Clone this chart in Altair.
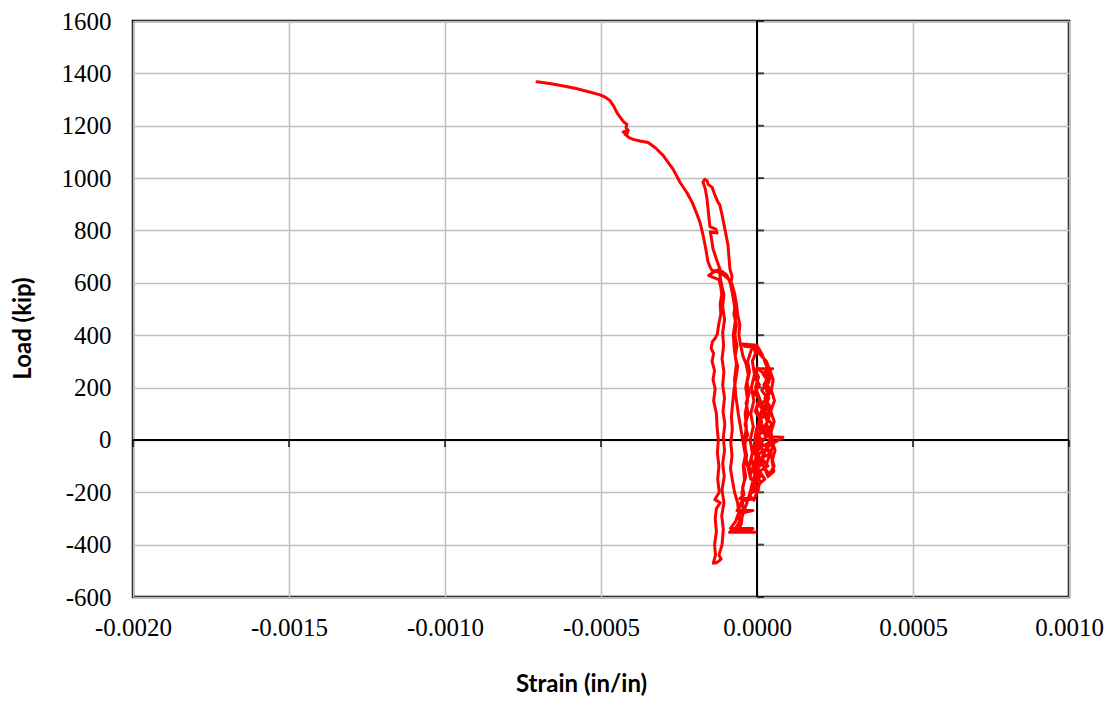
import altair as alt
import pandas as pd

# Strain in microstrain (1e-6 in/in), load in kip, in recorded order
seg_a = [(0,0),(8,25),(15,60),(10,95),(20,130),(12,100),(5,60),(-5,20),(-10,-30),(-18,-70),
         (-12,-100),(-20,-130),(-8,-90),(0,-50),(12,-80),(25,-110),(40,-130),(55,-100),(45,-60),
         (30,-30),(83,10),(40,12),(25,40),(35,80),(22,120),(38,160),(28,200),(42,235),(32,255),
         (45,270),(50,272),(42,272),(10,272),(-5,265),(5,240),(-5,200),(8,160),(-3,120),(10,80),
         (-2,40),(5,0),(-8,-40),(0,-80),(-10,-110),(-5,-150),(-15,-180),(-22,-215),(-10,-230),(0,-200)]
seg_a2 = [(10,-160),(-5,-120),(15,-90),(0,-60),(20,-40),(5,-10),(30,10),(15,40),(35,70),(20,100),
          (40,130),(25,160),(42,190),(30,220),(45,250),(35,275),(20,250),(38,220),(15,190),(32,160),
          (10,130),(28,100),(5,70),(25,40),(0,10),(20,-20),(-5,-50),(15,-80),(-8,-110),(10,-140),
          (-10,-170),(5,-190),(-12,-200),(-5,-180),(25,-150),(8,-120),(35,-100),(15,-70),(45,-50),
          (25,-20),(50,0),(30,30),(48,60),(28,90),(45,120),(25,150),(40,180),(22,210),(35,240),
          (15,260),(0,275),(-8,240),(8,210),(-10,180),(12,150),(-6,110),(15,70),(-4,30),(18,-5),
          (-2,-40),(10,-75),(-6,-100),(12,-125),(-8,-150)]
seg_b = [(-10,-150),(5,-100),(20,-60),(35,-20),(45,20),(30,60),(42,100),(28,140),(40,180),(30,220),
         (38,260),(25,300),(15,330),(5,350),(0,362),(-45,366),(-40,358),(-15,355),(-22,330),(-30,300),
         (-24,260),(-32,220),(-25,180),(-35,140),(-28,100),(-38,60),(-30,20),(-40,-20),(-33,-60),
         (-42,-100),(-36,-140),(-46,-180),(-42,-210),(-55,-224),(-6,-224),(-48,-232),(-58,-262),
         (-64,-270),(-13,-270),(-60,-282),(-68,-310),(-85,-338),(-13,-338),(-80,-345),(-88,-353),
         (-5,-353),(-70,-340),(-50,-300),(-35,-250),(-22,-200),(-12,-150),(0,-110),(15,-70),(30,-30),
         (50,-10),(58,-40),(48,-80),(54,-120),(35,-140),(25,-110),(40,-60),(52,-20),(45,30),(55,70),
         (44,110),(56,150),(46,190),(52,230),(40,270),(30,300),(15,320),(0,340),(-10,355),(-5,330),
         (-15,300),(-8,250),(-18,200),(-10,150),(-20,100),(-12,50),(-22,0),(-15,-50),(-25,-100),(-20,-150)]
seg_c = [(-30,-100),(-40,-40),(-50,30),(-60,100),(-68,170),(-72,230),(-66,290),(-73,350),(-76,400),
         (-69,460),(-73,520),(-79,560),(-86,600),(-96,628),(-110,642),(-125,650),(-140,640),(-155,628),
         (-138,620),(-122,612),(-116,585),(-113,555),(-118,520),(-116,480),(-123,440),(-127,405),
         (-134,388),(-143,375),(-147,350),(-139,330),(-144,300),(-136,265),(-141,230),(-134,195),
         (-139,150),(-130,100),(-128,50),(-124,0),(-127,-50),(-122,-100),(-126,-150),(-121,-200),
         (-135,-228),(-118,-240),(-130,-262),(-134,-300),(-130,-350),(-136,-400),(-133,-440),
         (-140,-471),(-128,-468),(-115,-455),(-122,-440)]
seg_d = [(-112,-400),(-108,-340),(-113,-290),(-106,-240),(-112,-190),(-105,-140),(-110,-90),
         (-104,-40),(-108,10),(-103,60),(-109,110),(-104,160),(-110,210),(-106,260),(-112,310),
         (-107,360),(-110,410),(-104,460),(-110,510),(-106,555),(-114,595),(-119,630),(-119,654),
         (-130,690),(-141,730),(-146,770),(-150,795),(-128,790),(-132,805),(-151,815),(-155,860),
         (-160,920),(-166,960),(-173,985),(-168,995),(-160,990),(-156,975),(-144,965),(-135,935),
         (-126,910),(-119,897),(-112,860),(-103,806),(-98,775),(-93,745),(-90,700),(-87,654),
         (-80,625),(-84,595),(-77,560),(-70,520),(-74,480),(-66,440),(-71,400),(-64,360),(-70,320),
         (-62,280),(-67,240),(-74,190),(-78,140),(-82,90),(-79,40),(-84,-10),(-80,-60),(-85,-110),
         (-78,-160),(-72,-200),(-62,-240),(-58,-290),(-54,-320),(-60,-345)]
seg_e = [(-50,-320),(-45,-260),(-48,-200),(-40,-150),(-44,-100),(-36,-50),(-40,0),(-34,50),(-38,100),
         (-30,150),(-36,200),(-28,250),(-35,290),(-45,320),(-52,360),(-58,400),(-55,440),(-62,480),
         (-66,520),(-72,560),(-80,595),(-92,615),(-105,628),(-118,638),(-132,644),(-145,648),
         (-150,660),(-157,680),(-165,735),(-173,783),(-183,832),(-195,870),(-208,908),(-225,945),
         (-247,984),(-258,1010),(-269,1034),(-285,1060),(-301,1087),(-325,1115),(-349,1136),
         (-375,1142),(-397,1148),(-410,1155),(-423,1167),(-415,1172),(-429,1176),(-412,1182),
         (-420,1192),(-417,1205),(-428,1216),(-440,1235),(-449,1250),(-458,1272),(-471,1296),
         (-485,1308),(-503,1318),(-540,1330),(-580,1342),(-620,1352),(-660,1360),(-705,1368)]

x_ticks = [-0.002, -0.0015, -0.001, -0.0005, 0.0, 0.0005, 0.001]
y_ticks = [-600, -400, -200, 0, 200, 400, 600, 800, 1000, 1200, 1400, 1600]

rows = []
for seg in (seg_a, seg_a2, seg_b, seg_c, seg_d, seg_e):
    for s, p in seg:
        rows.append({"idx": len(rows), "strain": s / 1e6, "load": p})
df = pd.DataFrame(rows)

xscale = alt.Scale(domain=[-0.002, 0.001], nice=False, zero=False)
yscale = alt.Scale(domain=[-600, 1600], nice=False, zero=False)

label_font = "Liberation Serif"
title_font = "Lato"

x_axis = alt.Axis(values=x_ticks, grid=True, gridColor="#BFBFBF", gridWidth=1.5,
                  ticks=False, domain=False, labelFlush=False,
                  labelExpr="replace(format(datum.value, '.4f'), '\u2212', '-')",
                  labelFont=label_font, labelFontSize=25, labelColor="black", labelPadding=18,
                  title="Strain (in/in)", titleFont=title_font, titleFontSize=24,
                  titleFontWeight="bold", titleColor="black",
                  titleX=448, titleY=87, titleBaseline="middle", titleAlign="center")
y_axis = alt.Axis(values=y_ticks, grid=True, gridColor="#BFBFBF", gridWidth=1.5,
                  ticks=False, domain=False, labelFlush=False,
                  labelExpr="replace(format(datum.value, 'd'), '\u2212', '-')",
                  labelFont=label_font, labelFontSize=25, labelColor="black", labelPadding=22,
                  title="Load (kip)", titleFont=title_font, titleFontSize=24,
                  titleFontWeight="bold", titleColor="black",
                  titleX=-110, titleY=307, titleBaseline="middle", titleAlign="center", titleAngle=-90)

base_x = alt.X("strain:Q", scale=xscale, axis=x_axis)
base_y = alt.Y("load:Q", scale=yscale, axis=y_axis)

grid_layer = alt.Chart(df).mark_point(opacity=0).encode(x=base_x, y=base_y)

zero_v = alt.Chart(df).mark_rule(color="black", strokeWidth=2).encode(
    x=alt.datum(0, scale=xscale))
zero_h = alt.Chart(df).mark_rule(color="black", strokeWidth=2).encode(
    y=alt.datum(0, scale=yscale))

yt = pd.DataFrame({"v": y_ticks})
xt = pd.DataFrame({"v": x_ticks})
y_tick_marks = alt.Chart(yt).mark_tick(color="black", orient="horizontal", size=7,
                                        thickness=2, xOffset=3.5).encode(
    x=alt.datum(0), y=alt.Y("v:Q"))
x_tick_marks = alt.Chart(xt).mark_tick(color="black", orient="vertical", size=7,
                                        thickness=2, yOffset=3.5).encode(
    y=alt.datum(0), x=alt.X("v:Q"))

curve = alt.Chart(df).mark_line(color="#FF0000", strokeWidth=3, strokeJoin="round",
                                strokeCap="round").encode(
    x=alt.X("strain:Q"), y=alt.Y("load:Q"), order="idx:Q")

chart = alt.layer(grid_layer, zero_v, zero_h, y_tick_marks, x_tick_marks, curve).properties(
    width=936, height=576,
    autosize=alt.AutoSizeParams(type="none"),
    padding={"left": 125, "top": 13, "right": 37, "bottom": 100},
    background="white",
).configure_view(stroke="black", strokeWidth=2.5)

chart.save("out.html", embed_options={"renderer": "svg", "actions": False})
